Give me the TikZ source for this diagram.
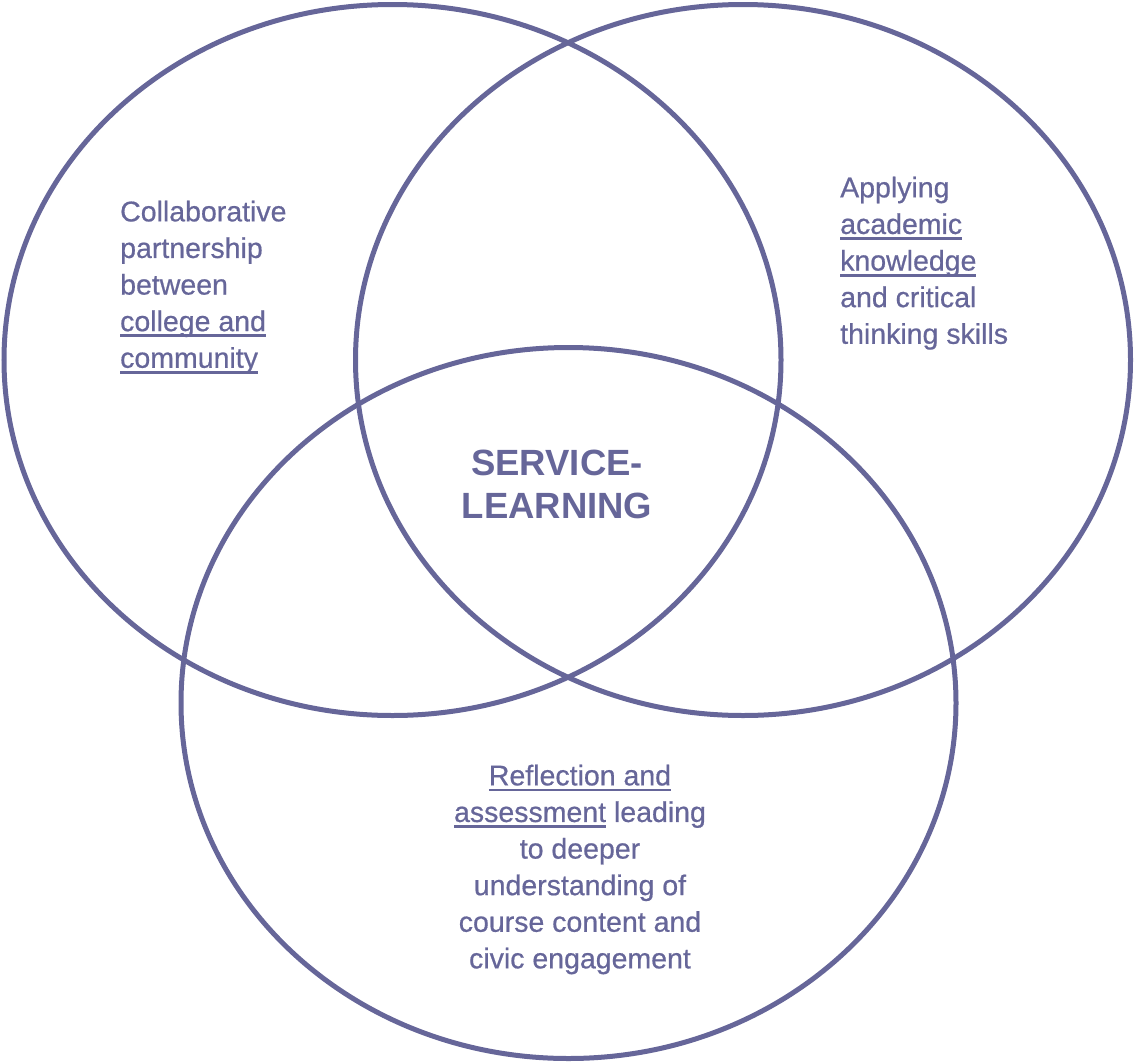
\documentclass[tikz,border=0pt]{standalone}
\usepackage{fontspec}
\setmainfont{Liberation Sans}
\newfontfamily\labelfont[FakeBold=0.6]{Liberation Sans}
\definecolor{venn}{HTML}{666699}
\newcommand{\myul}[1]{{\setbox0\hbox{#1}\rlap{\rule[-6pt]{\wd0}{2.8pt}}\box0}}
\tikzset{
  ring/.style={draw=venn, line width=5pt},
  label/.style={text=venn, inner sep=0pt, font=\labelfont\fontsize{28.5}{36.6}\selectfont},
  title/.style={text=venn, inner sep=0pt, font=\fontsize{36.5}{43}\selectfont\bfseries, align=center}
}
\begin{document}
\begin{tikzpicture}[x=1pt, y=-1pt]
\useasboundingbox (0,0) rectangle (1135,1063);
\draw[ring] (392.5,360) ellipse [x radius=388.5pt, y radius=355.5pt];
\draw[ring] (743,360) ellipse [x radius=387.5pt, y radius=355.5pt];
\draw[ring] (568.5,703) ellipse [x radius=387.5pt, y radius=355.5pt];
\node[label, align=left, anchor=north west] (left) at (120,200.5)
  {Collaborative\\partnership\\between\\\myul{college and}\\\myul{community}};
\node[label, align=left, anchor=north west] (right) at (840,176.5)
  {Applying\\\myul{academic}\\\myul{knowledge}\\and critical\\thinking skills};
\node[title, anchor=north] (center) at (557,449.5)
  {SERVICE-\\LEARNING};
\node[label, align=center, anchor=north] (bottom) at (580,764.5)
  {\myul{Reflection and}\\\myul{assessment} leading\\to deeper\\understanding of\\course content and\\civic engagement};
\end{tikzpicture}
\end{document}
